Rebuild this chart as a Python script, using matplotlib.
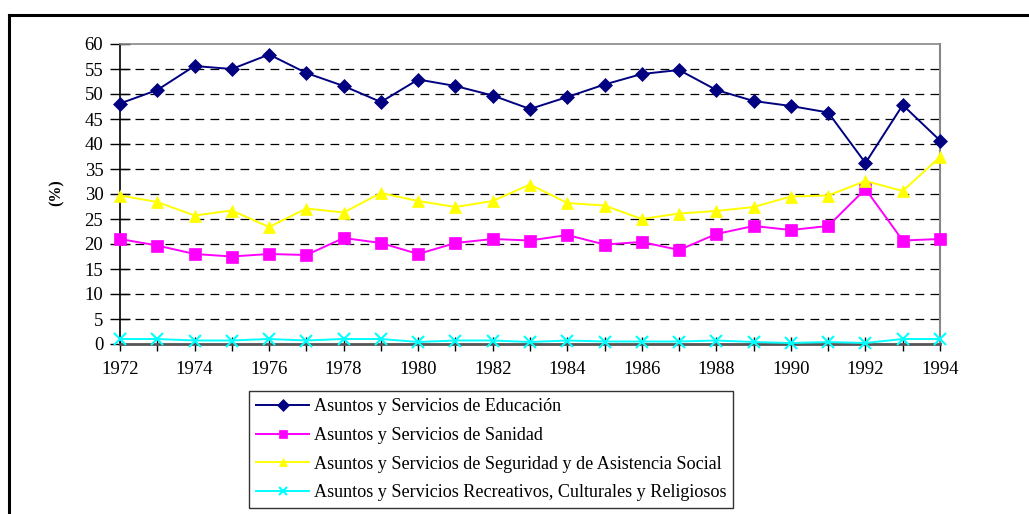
import matplotlib
matplotlib.use("Agg")
import matplotlib.pyplot as plt
from matplotlib.lines import Line2D

years = list(range(1972, 1995))
educacion = [48.1, 50.8, 55.6, 55.0, 57.9, 54.2, 51.6, 48.4, 52.9, 51.6, 49.7, 47.0,
             49.4, 51.9, 54.0, 54.8, 50.8, 48.6, 47.6, 46.3, 36.2, 47.8, 40.7]
sanidad = [21.0, 19.7, 18.0, 17.5, 18.0, 17.8, 21.2, 20.2, 18.0, 20.2, 21.0, 20.7,
           21.8, 19.9, 20.4, 18.8, 22.0, 23.6, 22.8, 23.6, 31.0, 20.7, 21.0]
seguridad = [29.7, 28.4, 25.7, 26.7, 23.4, 27.1, 26.3, 30.2, 28.6, 27.4, 28.6, 31.9,
             28.2, 27.7, 25.0, 26.1, 26.6, 27.4, 29.5, 29.7, 32.6, 30.6, 37.4]
recreativos = [1.0, 1.0, 0.7, 0.7, 1.0, 0.7, 1.0, 1.0, 0.4, 0.7, 0.7, 0.4,
               0.7, 0.5, 0.5, 0.5, 0.7, 0.4, 0.2, 0.4, 0.2, 1.0, 1.0]
labels = ["Asuntos y Servicios de Educación",
          "Asuntos y Servicios de Sanidad",
          "Asuntos y Servicios de Seguridad y de Asistencia Social",
          "Asuntos y Servicios Recreativos, Culturales y Religiosos"]
xtick_labels = [str(y) for y in range(1972, 1995, 2)]
yticks = list(range(0, 61, 5))

plt.rcParams['font.family'] = ['Liberation Serif', 'DejaVu Serif']

W, H = 1029, 514
fig = plt.figure(figsize=(W / 100, H / 100), dpi=100)
fig.patch.set_facecolor('white')

# outer frame (top & left visible)
fig.add_artist(Line2D([9 / W, 1.0], [1 - 15 / H, 1 - 15 / H], transform=fig.transFigure,
                      color='black', lw=2.2))
fig.add_artist(Line2D([9 / W, 9 / W], [0, 1 - 15 / H], transform=fig.transFigure,
                      color='black', lw=2.2))

ax = fig.add_axes([120 / W, 1 - 344 / H, 820 / W, 300 / H])

series = [
    (educacion, '#000080', 'D', 7, 'full'),
    (sanidad, '#FF00FF', 's', 8, 'full'),
    (seguridad, '#FFFF00', '^', 9, 'full'),
    (recreativos, '#00FFFF', 'x', 9, 'full'),
]
handles = []
for (vals, col, mk, ms, fs), lab in zip(series, labels):
    h, = ax.plot(years, vals, color=col, marker=mk, markersize=ms, lw=1.4,
                 markeredgewidth=1.5 if mk == 'x' else 0.5,
                 markeredgecolor=col, label=lab, clip_on=False, zorder=3)
    handles.append(h)

ax.set_xlim(1972, 1994)
ax.set_ylim(0, 60)
ax.set_yticks(yticks)
ax.set_xticks(years)
ax.set_xticklabels([str(y) if (y - 1972) % 2 == 0 else '' for y in years])
ax.tick_params(axis='y', direction='inout', length=14, width=1, labelsize=13.5, pad=5, colors='black')
ax.tick_params(axis='x', direction='inout', length=10, width=1, labelsize=13.5, pad=7, colors='black')

for y in yticks[1:-1]:
    ax.axhline(y, color='black', lw=0.9, dashes=(7, 5), zorder=1)

ax.spines['left'].set_color('black')
ax.spines['left'].set_linewidth(1.2)
ax.spines['bottom'].set_color('#555555')
ax.spines['bottom'].set_linewidth(2)
ax.spines['top'].set_color('#888888')
ax.spines['top'].set_linewidth(1.2)
ax.spines['right'].set_color('#888888')
ax.spines['right'].set_linewidth(1.5)

fig.text(57 / W, 1 - 193 / H, '(%)', rotation=90, ha='center', va='center',
         fontsize=11.5, fontweight='bold')

leg = fig.legend(handles=handles, labels=labels, loc='upper left',
                 bbox_to_anchor=(249 / W, 1 - 391 / H), frameon=True, fancybox=False,
                 fontsize=13.1, handlelength=2.9, handletextpad=0.25, labelspacing=0.64,
                 borderpad=0.4, borderaxespad=0)
leg.get_frame().set_edgecolor('black')
leg.get_frame().set_linewidth(1.0)
for lh in leg.legend_handles:
    lh.set_markersize(6)

fig.savefig('out.png', dpi=100)
